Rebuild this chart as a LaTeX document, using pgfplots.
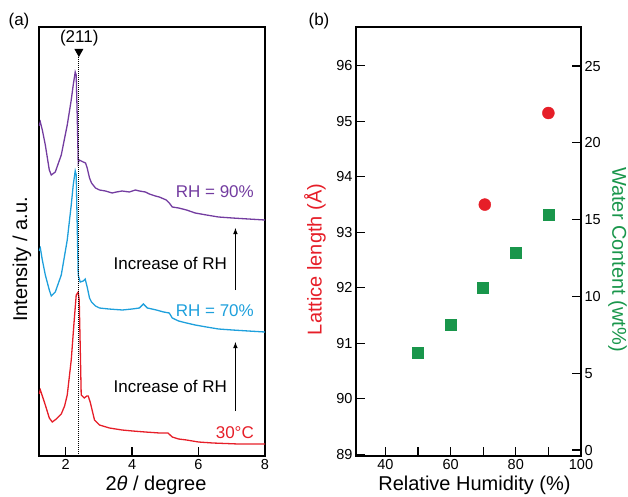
\documentclass[border=0pt]{standalone}
\usepackage{fontspec}
\setmainfont{Liberation Sans}
\usepackage{pgfplots}
\pgfplotsset{compat=1.18}

\definecolor{cpurple}{RGB}{115,60,160}
\definecolor{cblue}{RGB}{30,160,220}
\definecolor{cred}{RGB}{230,30,40}
\definecolor{cgreen}{RGB}{25,150,75}

\pgfplotsset{
  common/.style={
    scale only axis,
    anchor=south west,
    width=226pt, height=429pt,
    tick align=inside,
    major tick length=9pt,
    minor tick length=9pt,
    axis line style={line width=1.8pt},
    every tick/.style={black, line width=1.3pt},
    /pgf/number format/assume math mode=true,
    tick label style={font=\fontsize{14.5}{17}\selectfont},
    label style={font=\fontsize{20}{24}\selectfont},
  }
}

\begin{document}
\begin{tikzpicture}
\useasboundingbox (0,0) rectangle (628pt,496pt);

\node[font=\fontsize{17}{20}\selectfont] at (19pt,475pt) {(a)};
\node[font=\fontsize{17}{20}\selectfont] at (319pt,475pt) {(b)};

% ---- panel (a): XRD patterns ----
\begin{axis}[common,
  at={(39pt,40pt)},
  xmin=1.2, xmax=8, ymin=0, ymax=429,
  xtick={2,4,6,8}, ytick=\empty, xtick pos=bottom,
  xlabel={2\textit{θ} / degree},
  ylabel={Intensity / a.u.},
  xlabel style={at={([xshift=4pt,yshift=-29pt]axis description cs:0.5,0)}, anchor=center},
  ylabel style={at={([xshift=-17pt,yshift=-18pt]axis description cs:0,0.5)}, anchor=center},
]
\addplot[cpurple, line width=1.3pt] coordinates {
 (1.2,330) (1.24,334) (1.3,326) (1.39,311) (1.51,286) (1.57,281) (1.69,284)
 (1.87,301) (2.05,331) (2.17,356) (2.23,371) (2.29,384) (2.32,381) (2.35,340)
 (2.38,293) (2.41,296) (2.47,295) (2.53,294) (2.6,293) (2.65,288) (2.72,278)
 (2.78,273) (2.9,268) (3.02,266) (3.2,265) (3.4,263) (3.53,264) (3.7,265)
 (3.92,264) (4.1,266) (4.22,265) (4.4,264) (4.52,262) (4.7,260) (4.82,259)
 (5.03,256) (5.12,253) (5.21,249) (5.4,248) (5.64,246) (5.9,243) (6.24,241)
 (6.6,239) (7.02,238) (7.5,237) (8.0,236)};
\addplot[cblue, line width=1.3pt] coordinates {
 (1.2,205) (1.24,208) (1.3,196) (1.39,181) (1.51,166) (1.57,160) (1.69,164)
 (1.87,181) (2.05,216) (2.17,251) (2.23,271) (2.29,285) (2.32,281) (2.35,230)
 (2.38,181) (2.44,174) (2.53,175) (2.59,177) (2.65,169) (2.72,158) (2.78,154)
 (2.9,150) (3.02,148) (3.3,147) (3.71,146) (4.0,147) (4.22,148) (4.34,152)
 (4.46,148) (4.6,147) (4.73,146) (4.95,144) (5.12,143) (5.21,138) (5.4,135)
 (5.64,133) (5.9,131) (6.24,129) (6.6,127) (7.02,126) (7.5,125) (8.0,124)};
\addplot[cred, line width=1.3pt] coordinates {
 (1.2,62) (1.24,66) (1.3,60) (1.39,51) (1.51,38) (1.6,34) (1.72,37) (1.87,42)
 (1.97,50) (2.05,61) (2.17,96) (2.26,136) (2.32,161) (2.38,164) (2.41,156)
 (2.44,110) (2.47,61) (2.56,58) (2.64,60) (2.68,60) (2.74,54) (2.87,36)
 (3.02,31) (3.32,28) (3.7,26) (4.02,25) (4.4,24) (4.83,23) (5.08,23)
 (5.21,19) (5.4,17) (5.64,16) (6.0,14) (6.43,13) (7.2,12) (8.0,12)};

\draw[black, densely dotted, line width=1pt] (axis cs:2.4,399) -- (axis cs:2.4,0);
\fill[black] (axis cs:2.4,399) -- ([xshift=-4.5pt,yshift=8pt]axis cs:2.4,399)
  -- ([xshift=4.5pt,yshift=8pt]axis cs:2.4,399) -- cycle;
\node[font=\fontsize{17}{20}\selectfont] at (axis cs:2.41,418) {(211)};

\node[cpurple, anchor=east, font=\fontsize{17}{20}\selectfont] at (axis cs:7.77,264) {RH = 90\%};
\node[cblue, anchor=east, font=\fontsize{17}{20}\selectfont] at (axis cs:7.77,145) {RH = 70\%};
\node[cred, anchor=east, font=\fontsize{17}{20}\selectfont] at (axis cs:7.77,23) {30°C};
\node[font=\fontsize{17}{20}\selectfont] at (axis cs:5.15,193) {Increase of RH};
\node[font=\fontsize{17}{20}\selectfont] at (axis cs:5.15,70) {Increase of RH};
\draw[-latex, line width=1.1pt] (axis cs:7.11,166) -- (axis cs:7.11,228);
\draw[-latex, line width=1.1pt] (axis cs:7.11,45) -- (axis cs:7.11,114);
\end{axis}

% ---- panel (b): lattice length (left) ----
\begin{axis}[common,
  at={(356pt,40pt)}, width=225pt,
  xmin=31, xmax=100, ymin=88.97, ymax=96.7,
  xtick={40,60,80,100}, minor xtick={50,70,90},
  ytick={89,90,...,96},
  xtick pos=bottom, ytick pos=left,
  xlabel={Relative Humidity (\%)},
  ylabel={Lattice length (Å)},
  ylabel style={cred, at={([xshift=-41pt,yshift=-18pt]axis description cs:0,0.5)}, anchor=center},
  xlabel style={at={([xshift=6pt,yshift=-29pt]axis description cs:0.5,0)}, anchor=center},
]
\addplot[only marks, mark=*, mark size=6pt, cred, mark options={draw=cred, fill=cred}] coordinates {
 (70.5,93.5) (90,95.15)};
\end{axis}

% ---- panel (b): water content (right) ----
\begin{axis}[common,
  at={(356pt,40pt)}, width=225pt,
  xmin=31, xmax=100, ymin=-0.39, ymax=27.54,
  axis x line=none, axis y line*=right,
  ytick={0,5,...,25},
  ylabel={Water Content (wt\%)},
  ylabel style={cgreen, at={([xshift=36.5pt,yshift=-18pt]axis description cs:1,0.5)}, anchor=center, rotate=180},
]
\addplot[only marks, mark=square*, mark size=5.5pt, cgreen, mark options={draw=cgreen, fill=cgreen}] coordinates {
 (50,6.34) (60,8.14) (70,10.57) (80,12.85) (90,15.3)};
\end{axis}
\end{tikzpicture}
\end{document}
